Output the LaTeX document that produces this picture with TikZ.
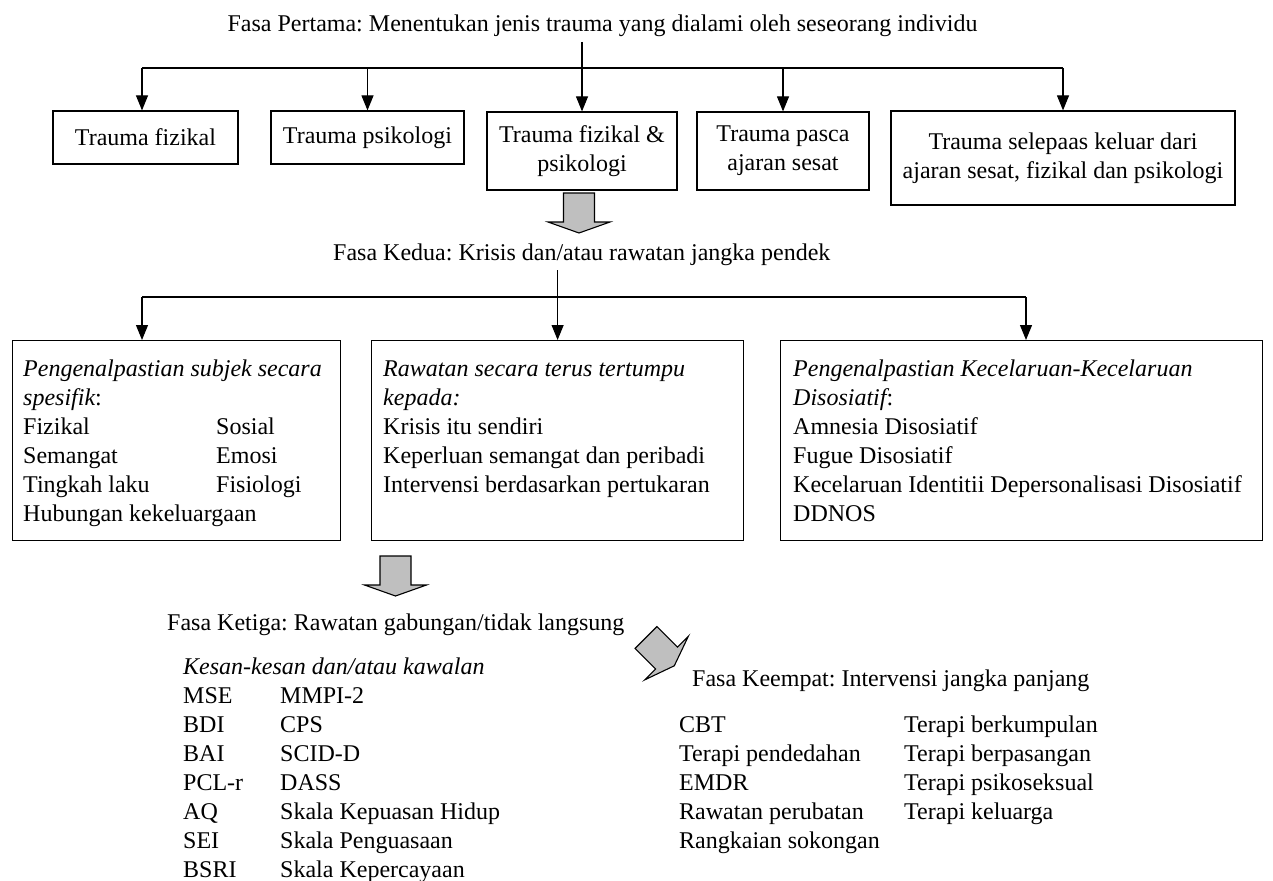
\documentclass[tikz,border=0pt]{standalone}
\usepackage{fontspec}
\setmainfont{Liberation Serif}
\usetikzlibrary{arrows.meta,calc}
\tikzset{
  tbox/.style={draw=black, line width=1.2pt, align=center, inner sep=0pt},
  lbox/.style={draw=black, line width=1.2pt, anchor=north west, inner sep=0pt},
  conn/.style={line width=1.1pt, draw=black},
  arr/.style={conn, -{Triangle[length=15pt,width=12pt]}},
  txt/.style={anchor=base west, inner sep=0pt},
  blockfill/.style={fill=black!25, draw=black, line width=1.1pt, line join=miter},
  pics/blockarrow/.style={code={
    \path[blockfill] (-15.5,0) -- (15.5,0) -- (15.5,29) -- (31,29) -- (0,40) -- (-31,29) -- (-15.5,29) -- cycle;}}
}
\begin{document}
\frenchspacing
\begin{tikzpicture}[x=1pt,y=-1pt,font=\fontsize{24}{29}\selectfont\frenchspacing]
\useasboundingbox (0,0) rectangle (1273,880);

% ---------- Phase 1 ----------
\node[anchor=base, inner sep=0pt] (t1) at (602.5,32) {Fasa Pertama: Menentukan jenis trauma yang dialami oleh seseorang individu};

\node[tbox, minimum width=185pt, minimum height=53pt] (b1) at (145.5,137.5) {Trauma fizikal};
\node[tbox, minimum width=193pt, minimum height=53pt] (b2) at (367.5,137.5) {Trauma psikologi};
\node[tbox, minimum width=190pt, minimum height=78pt] (b3) at (582,151) {Trauma fizikal \&\\psikologi};
\node[tbox, minimum width=172pt, minimum height=78pt] (b4) at (783,151) {Trauma pasca\\ajaran sesat};
\node[tbox, minimum width=344pt, minimum height=94pt] (b5) at (1063,158) {Trauma selepaas keluar dari\\ajaran sesat, fizikal dan psikologi};

\coordinate (c42) at (0,42);
\coordinate (bus1) at (0,68);
\coordinate (p1) at (142,68);
\draw[arr] (b3.north |- c42) -- (b3.north);
\draw[conn] (p1) -- (b5.north |- bus1);
\draw[arr] (p1) -- (p1 |- b1.north);
\foreach \b in {b2,b4,b5} \draw[arr] (\b.north |- bus1) -- (\b.north);

\pic at (579,193) {blockarrow};

% ---------- Phase 2 ----------
\node[txt] (t2) at (333,260) {Fasa Kedua: Krisis dan/atau rawatan jangka pendek};

\node[lbox, minimum width=328pt, minimum height=200pt] (bA) at (12,340) {};
\node[lbox, minimum width=372pt, minimum height=200pt] (bB) at (371,340) {};
\node[lbox, minimum width=482pt, minimum height=200pt] (bC) at (780,340) {};

\coordinate (c270) at (0,270);
\coordinate (aA) at (142,297);
\coordinate (aC) at (1026,297);
\draw[arr] (bB.north |- c270) -- (bB.north);
\draw[conn] (aA) -- (aC);
\draw[arr] (aA) -- (aA |- bA.north);
\draw[arr] (aC) -- (aC |- bC.north);

\foreach \s [count=\i from 0] in {{\itshape Pengenalpastian subjek secara}, {{\itshape spesifik}:}, Fizikal, Semangat, Tingkah laku, Hubungan kekeluargaan}
  \node[txt] (A\i) at (23,376+29*\i) {\s};
\foreach \s [count=\i from 2] in {Sosial, Emosi, Fisiologi}
  \node[txt] (As\i) at (216,376+29*\i) {\s};

\foreach \s [count=\i from 0] in {{\itshape Rawatan secara terus tertumpu}, {\itshape kepada:}, Krisis itu sendiri, Keperluan semangat dan peribadi, Intervensi berdasarkan pertukaran}
  \node[txt] (B\i) at (383,376+29*\i) {\s};

\foreach \s [count=\i from 0] in {{\itshape Pengenalpastian Kecelaruan-Kecelaruan}, {{\itshape Disosiatif}:}, Amnesia Disosiatif, Fugue Disosiatif, Kecelaruan Identitii Depersonalisasi Disosiatif, DDNOS}
  \node[txt] (C\i) at (793,376+29*\i) {\s};

\pic at (395.5,556) {blockarrow};

% ---------- Phase 3 ----------
\node[txt] (t3) at (167,630) {Fasa Ketiga: Rawatan gabungan/tidak langsung};

\foreach \s [count=\i from 0] in {{\itshape Kesan-kesan dan/atau kawalan}, MSE, BDI, BAI, PCL-r, AQ, SEI, BSRI}
  \node[txt] (K\i) at (183,674+29*\i) {\s};
\foreach \s [count=\i from 1] in {MMPI-2, CPS, SCID-D, DASS, Skala Kepuasan Hidup, Skala Penguasaan, Skala Kepercayaan}
  \node[txt] (Ks\i) at (280,674+29*\i) {\s};

\pic[rotate=45] at (646,637.5) {blockarrow};

% ---------- Phase 4 ----------
\node[txt] (t4) at (692,686) {Fasa Keempat: Intervensi jangka panjang};

\foreach \s [count=\i from 0] in {CBT, Terapi pendedahan, EMDR, Rawatan perubatan, Rangkaian sokongan}
  \node[txt] (L\i) at (679,732+29*\i) {\s};
\foreach \s [count=\i from 0] in {Terapi berkumpulan, Terapi berpasangan, Terapi psikoseksual, Terapi keluarga}
  \node[txt] (R\i) at (904,732+29*\i) {\s};

\end{tikzpicture}
\end{document}
